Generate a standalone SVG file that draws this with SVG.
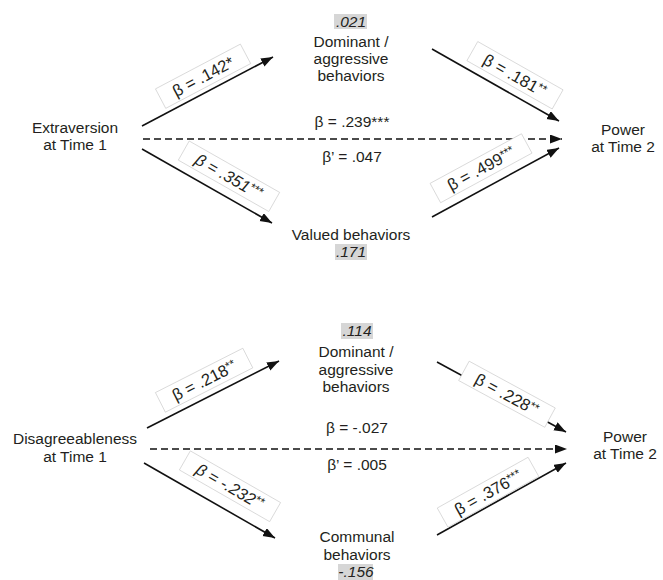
<svg xmlns="http://www.w3.org/2000/svg" width="663" height="580" viewBox="0 0 663 580">
<style>
text{font-family:"Liberation Sans",Arial,sans-serif;fill:#231f20}
.n{font-size:15.5px;text-anchor:middle}
.v{font-size:15.5px;text-anchor:middle;font-style:italic}
.l{font-size:16.5px;text-anchor:middle}
.li{font-size:16.5px;text-anchor:middle;font-style:italic}
.s{font-size:12px}
.hl{fill:#d6d6d6}
.lb{fill:#fff;stroke:#c8c8c8;stroke-width:0.6}
.ar{stroke:#111;stroke-width:1.6;fill:none;marker-end:url(#ah)}
.da{stroke:#111;stroke-width:1.6;fill:none;stroke-dasharray:7 4;marker-end:url(#ah)}
</style>
<defs>
<marker id="ah" markerUnits="userSpaceOnUse" markerWidth="13" markerHeight="10" refX="12" refY="4.5" orient="auto">
<path d="M0,0 L12,4.5 L0,9 z" fill="#111" stroke="none"/>
</marker>
</defs>
<rect width="663" height="580" fill="#fff"/>

<g id="connectors">
<line class="ar" x1="142" y1="126" x2="273" y2="57"/>
<line class="ar" x1="142" y1="149" x2="272" y2="223"/>
<line class="ar" x1="432" y1="49" x2="559" y2="121"/>
<line class="ar" x1="432" y1="217" x2="559" y2="148"/>
<line class="da" x1="143" y1="139" x2="562" y2="139"/>
<line class="ar" x1="147" y1="428" x2="279" y2="361"/>
<line class="ar" x1="144" y1="463" x2="275" y2="538"/>
<line class="ar" x1="437" y1="362" x2="566" y2="432"/>
<line class="ar" x1="437" y1="535" x2="566" y2="463"/>
<line class="da" x1="150" y1="449" x2="567" y2="449"/>
</g>

<g id="edge-labels">
<g transform="translate(204,78) rotate(-27.8)"><rect class="lb" x="-48" y="-13" width="96" height="22"/><text class="l" y="4">β = .142*</text></g>
<g transform="translate(228,178) rotate(29.6)"><rect class="lb" x="-52" y="-13" width="104" height="22"/><text class="li" y="4">β = .351<tspan class="s" dy="-4">***</tspan></text></g>
<g transform="translate(514,77) rotate(29.5)"><rect class="lb" x="-49" y="-13" width="98" height="22"/><text class="l" y="4">β = .181<tspan class="s" dy="-4">**</tspan></text></g>
<g transform="translate(482,170) rotate(-28.5)"><rect class="lb" x="-52" y="-13" width="104" height="22"/><text class="l" y="4">β = .499<tspan class="s" dy="-4">***</tspan></text></g>
<text class="n" x="352" y="127">β = .239***</text>
<text class="n" x="352" y="162">β’ = .047</text>

<g transform="translate(205,382) rotate(-26.9)"><rect class="lb" x="-49" y="-13" width="98" height="22"/><text class="l" y="4">β = .218<tspan class="s" dy="-4">**</tspan></text></g>
<g transform="translate(229,488) rotate(29.8)"><rect class="lb" x="-52" y="-13" width="104" height="22"/><text class="li" y="4">β = -.232<tspan class="s" dy="-4">**</tspan></text></g>
<g transform="translate(506,396) rotate(28.5)"><rect class="lb" x="-49" y="-13" width="98" height="22"/><text class="l" y="4">β = .228<tspan class="s" dy="-4">**</tspan></text></g>
<g transform="translate(489,494) rotate(-29.2)"><rect class="lb" x="-52" y="-13" width="104" height="22"/><text class="l" y="4">β = .376<tspan class="s" dy="-4">***</tspan></text></g>
<text class="n" x="357" y="433">β = -.027</text>
<text class="n" x="357" y="470">β’ = .005</text>
</g>

<g id="extraversion"><text class="n" x="75" y="133">Extraversion</text><text class="n" x="75" y="150">at Time 1</text></g>
<g id="power1"><text class="n" x="623" y="135">Power</text><text class="n" x="623" y="152">at Time 2</text></g>
<g id="dominant1"><rect class="hl" x="334" y="14" width="33" height="15"/><text class="v" x="351" y="27">.021</text><text class="n" x="351" y="47">Dominant /</text><text class="n" x="351" y="64">aggressive</text><text class="n" x="351" y="81">behaviors</text></g>
<g id="valued"><text class="n" x="351" y="240">Valued behaviors</text><rect class="hl" x="335" y="244" width="32" height="16"/><text class="v" x="351" y="257">.171</text></g>

<g id="disagreeableness"><text class="n" x="75" y="444">Disagreeableness</text><text class="n" x="75" y="462">at Time 1</text></g>
<g id="power2"><text class="n" x="625" y="442">Power</text><text class="n" x="625" y="459">at Time 2</text></g>
<g id="dominant2"><rect class="hl" x="341" y="323" width="32" height="16"/><text class="v" x="357" y="336">.114</text><text class="n" x="356" y="357">Dominant /</text><text class="n" x="356" y="375">aggressive</text><text class="n" x="356" y="392">behaviors</text></g>
<g id="communal"><text class="n" x="357" y="542">Communal</text><text class="n" x="357" y="560">behaviors</text><rect class="hl" x="338" y="564" width="35" height="16"/><text class="v" x="356" y="577">-.156</text></g>
</svg>
